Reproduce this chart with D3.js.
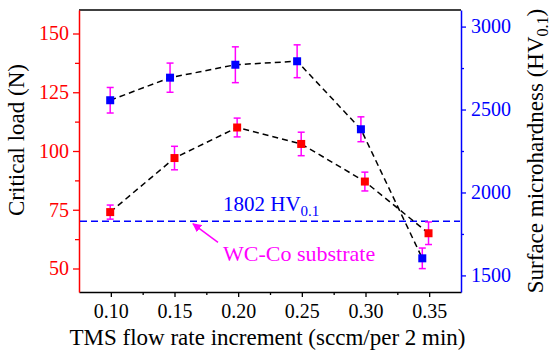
<!DOCTYPE html>
<html>
<head>
<meta charset="utf-8">
<script src="https://cdn.jsdelivr.net/npm/d3@7"></script>
</head>
<body style="margin:0">
<svg id="chart" width="550" height="353"></svg>
<script>
// ---- Data ----
const xTicks = [0.10, 0.15, 0.20, 0.25, 0.30, 0.35];
const xTickLabels = ["0.10", "0.15", "0.20", "0.25", "0.30", "0.35"];
const leftTicks = [50, 75, 100, 125, 150];
const rightTicks = [1500, 2000, 2500, 3000];

// Critical load (N), left axis, red squares
const loadX = [0.0995, 0.150, 0.1992, 0.2495, 0.2995, 0.3495];
const loadValues = [74, 97, 110, 103, 87, 65];
const loadErrors = [3, 5, 4, 5, 4, 4.8];

// Surface microhardness (HV0.1), right axis, blue squares
const hardX = [0.0995, 0.1465, 0.1978, 0.2463, 0.2964, 0.3446];
const hardValues = [2556, 2692, 2770, 2791, 2381, 1603];
const hardErrors = [77, 88, 108, 99, 75, 62];

// WC-Co substrate hardness reference line (right axis position as drawn)
const substrateLine = 1826;
const substrateLabel = "1802 HV";
const substrateSub = "0.1";
const substrateName = "WC-Co substrate";

// ---- Layout ----
const L = 79, R = 461, T = 10, B = 292;
const svg = d3.select("#chart");
function serif(sel, size) {
  return sel.attr("font-family", "Liberation Serif")
    .style("font-family", '"Liberation Serif"')
    .attr("font-size", size);
}

const x = d3.scaleLinear().domain([0.075, 0.375]).range([L, R]);
const yL = d3.scaleLinear().domain([40, 160]).range([B, T]);
const yR = d3.scaleLinear().domain([1400, 3100]).range([B, T]);

const RED = "#ff0000", BLUE = "#0000ff", MAG = "#ff00ff";

// top frame line
svg.append("line").attr("x1", L).attr("x2", R).attr("y1", T).attr("y2", T)
  .attr("stroke", "#000").attr("stroke-width", 1.5);

// Bottom axis (minor then major)
const xMinor = d3.range(0.125, 0.35, 0.05);
svg.append("g").attr("transform", `translate(0,${B})`)
  .call(d3.axisBottom(x).tickValues(xMinor).tickSize(3).tickFormat(""))
  .call(g => g.select(".domain").remove())
  .call(g => g.selectAll("line").attr("stroke", "#000").attr("stroke-width", 1.3));
const gx = svg.append("g").attr("transform", `translate(0,${B})`)
  .call(d3.axisBottom(x).tickValues(xTicks).tickSize(5).tickPadding(7)
    .tickFormat((d, i) => xTickLabels[i]).tickSizeOuter(0));
serif(gx, 20);
gx.select(".domain").attr("stroke", "#000").attr("stroke-width", 1.5);
gx.selectAll("line").attr("stroke", "#000").attr("stroke-width", 1.3);
serif(gx.selectAll("text"), 20).attr("fill", "#000");

// Left axis
const leftMinor = d3.range(62.5, 160, 25);
svg.append("g").attr("transform", `translate(${L},0)`)
  .call(d3.axisLeft(yL).tickValues(leftMinor).tickSize(4).tickFormat(""))
  .call(g => g.select(".domain").remove())
  .call(g => g.selectAll("line").attr("stroke", RED).attr("stroke-width", 1.3));
const gl = svg.append("g").attr("transform", `translate(${L},0)`)
  .call(d3.axisLeft(yL).tickValues(leftTicks).tickSize(6).tickPadding(4)
    .tickFormat(d3.format("d")).tickSizeOuter(0));
serif(gl, 20);
gl.select(".domain").attr("stroke", RED).attr("stroke-width", 1.5);
gl.selectAll("line").attr("stroke", RED).attr("stroke-width", 1.3);
serif(gl.selectAll("text"), 20).attr("fill", RED);

// Right axis
const rightMinor = d3.range(1750, 3100, 500);
svg.append("g").attr("transform", `translate(${R},0)`)
  .call(d3.axisRight(yR).tickValues(rightMinor).tickSize(3).tickFormat(""))
  .call(g => g.select(".domain").remove())
  .call(g => g.selectAll("line").attr("stroke", BLUE).attr("stroke-width", 1.3));
const gr = svg.append("g").attr("transform", `translate(${R},0)`)
  .call(d3.axisRight(yR).tickValues(rightTicks).tickSize(5).tickPadding(5)
    .tickFormat(d3.format("d")).tickSizeOuter(0));
serif(gr, 20);
gr.select(".domain").attr("stroke", BLUE).attr("stroke-width", 1.5);
gr.selectAll("line").attr("stroke", BLUE).attr("stroke-width", 1.3);
serif(gr.selectAll("text"), 20).attr("fill", BLUE);

// Substrate reference dashed line
svg.append("line")
  .attr("x1", L + 1).attr("x2", R - 1)
  .attr("y1", yR(substrateLine)).attr("y2", yR(substrateLine))
  .attr("stroke", BLUE).attr("stroke-width", 1.5).attr("stroke-dasharray", "7,4");

const subText = serif(svg.append("text"), 21)
  .attr("x", 223).attr("y", yR(substrateLine) - 10).attr("fill", BLUE);
subText.append("tspan").text(substrateLabel);
subText.append("tspan").attr("font-size", 15).attr("dy", 5).text(substrateSub);

serif(svg.append("text"), 22)
  .attr("x", 223).attr("y", yR(substrateLine) + 40)
  .attr("fill", MAG).text(substrateName);

// Arrow
svg.append("defs").append("marker")
  .attr("id", "arr").attr("viewBox", "0 0 10 10").attr("refX", 9).attr("refY", 5)
  .attr("markerWidth", 9).attr("markerHeight", 9).attr("markerUnits", "userSpaceOnUse")
  .attr("orient", "auto")
  .append("path").attr("d", "M0,0 L10,5 L0,10 Z").attr("fill", MAG);
svg.append("line")
  .attr("x1", 218).attr("y1", yR(substrateLine) + 21)
  .attr("x2", 193).attr("y2", yR(substrateLine) + 2.5)
  .attr("stroke", MAG).attr("stroke-width", 1.5).attr("marker-end", "url(#arr)");

// Series drawing helper
function drawSeries(xs, vals, errs, yScale, color) {
  const pts = xs.map((d, i) => ({ x: d, v: vals[i], e: errs[i] }));
  svg.append("path").datum(pts)
    .attr("d", d3.line().x(d => x(d.x)).y(d => yScale(d.v)))
    .attr("fill", "none").attr("stroke", "#000").attr("stroke-width", 1.5)
    .attr("stroke-dasharray", "6,4");
  const g = svg.append("g");
  const eb = g.selectAll("g.eb").data(pts).join("g");
  eb.append("line")
    .attr("x1", d => x(d.x)).attr("x2", d => x(d.x))
    .attr("y1", d => yScale(d.v - d.e)).attr("y2", d => yScale(d.v + d.e))
    .attr("stroke", MAG).attr("stroke-width", 1.5);
  [1, -1].forEach(s => {
    eb.append("line")
      .attr("x1", d => x(d.x) - 3.5).attr("x2", d => x(d.x) + 3.5)
      .attr("y1", d => yScale(d.v + s * d.e)).attr("y2", d => yScale(d.v + s * d.e))
      .attr("stroke", MAG).attr("stroke-width", 1.5);
  });
  g.selectAll("rect").data(pts).join("rect")
    .attr("x", d => x(d.x) - 4).attr("y", d => yScale(d.v) - 4)
    .attr("width", 8).attr("height", 8).attr("fill", color);
}
drawSeries(loadX, loadValues, loadErrors, yL, RED);
drawSeries(hardX, hardValues, hardErrors, yR, BLUE);

// Axis titles
serif(svg.append("text"), 23)
  .attr("transform", `translate(24,${(T + B) / 2 - 11}) rotate(-90)`)
  .attr("text-anchor", "middle").attr("fill", "#000")
  .text("Critical load (N)");

const rt = serif(svg.append("text"), 23)
  .attr("transform", `translate(543,${(T + B) / 2}) rotate(-90)`)
  .attr("text-anchor", "middle").attr("fill", "#000");
rt.append("tspan").text("Surface microhardness (HV");
rt.append("tspan").attr("font-size", 16).attr("dy", 5).text("0.1");
rt.append("tspan").attr("dy", -5).text(")");

serif(svg.append("text"), 23)
  .attr("x", 267.5).attr("y", 345)
  .attr("text-anchor", "middle").attr("fill", "#000")
  .text("TMS flow rate increment (sccm/per 2 min)");
</script>
</body>
</html>
